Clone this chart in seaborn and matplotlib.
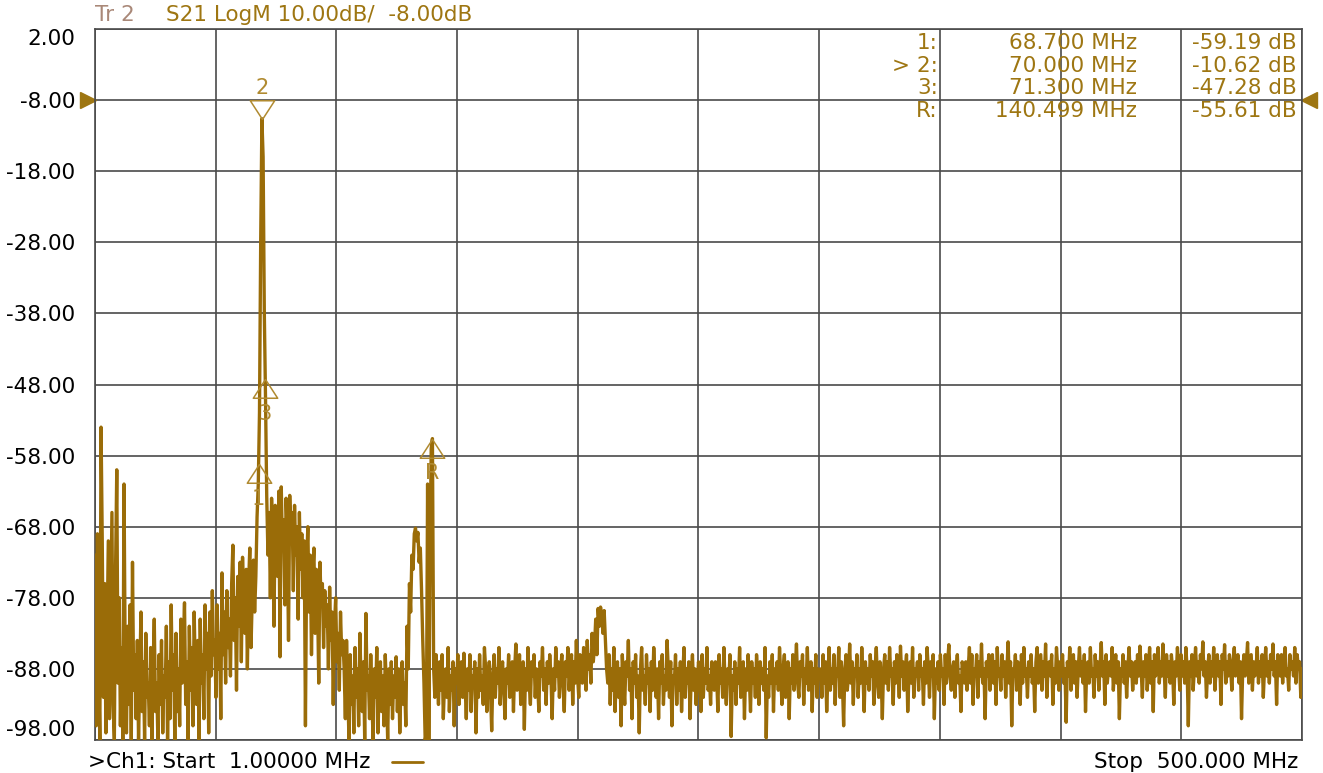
import matplotlib
matplotlib.use("Agg")
import matplotlib.pyplot as plt
import matplotlib.transforms as mtransforms
from matplotlib.lines import Line2D
import seaborn as sns
import numpy as np

W, H = 1323, 773

START_MHZ = 1.0
STOP_MHZ = 500.0
REF_DB = -8.0

# S21 trace, 0.5 MHz per point, split by region
edge_spurs = [-72, -96, -69, -88, -98, -54, -70, -92, -76, -97,
              -84, -70, -95, -80, -66, -93, -98, -74, -60, -90,
              -78, -96, -85, -98, -62]
low_band = [-88, -97, -82, -93, -79, -98, -73, -91, -86, -95,
            -84, -98, -89, -80, -94, -87, -98, -83, -92, -90,
            -96, -85, -98, -88, -81, -94, -90, -98, -86, -93,
            -84, -97, -89, -92, -82, -98, -87, -95, -79, -91,
            -86, -98, -83, -94, -88, -96, -81, -90, -85, -78.7,
            -93, -87, -98, -82, -91, -85, -96, -80, -89, -93,
            -84, -98, -81, -90, -86, -95, -79, -88, -83, -97,
            -80, -89, -77, -86]
rising_skirt = [-84, -92, -79, -88, -83, -95, -74.5, -86, -80, -90,
                -77, -85, -81, -89, -76, -70.6, -84, -78, -91, -75,
                -82, -73, -87, -72.3, -79, -83, -74, -88, -76, -71,
                -85, -78, -72.7, -80, -75, -66.6, -62]
carrier = [-52, -28, -10.62, -16, -38, -50]
falling_skirt = [-63.8, -72, -66, -78, -64, -70, -82, -65, -68, -75,
                 -63, -86.3, -62.4, -71, -67, -79, -64, -69, -84, -63.6,
                 -70, -66, -77, -65, -72, -68, -81, -66, -74, -69,
                 -78, -70, -96, -73, -68, -80, -72, -86, -75, -71,
                 -83, -74, -78, -90, -73, -79, -76, -85, -77, -82,
                 -79, -88, -76.5, -84, -80, -93, -82, -78, -87, -83,
                 -91, -80, -86, -84]
gap_band = [-88, -95, -84, -91, -98, -86, -93, -89, -97, -85,
            -92, -88, -96, -83, -90, -94, -87, -98, -80.2, -91,
            -89, -95, -86, -93, -98, -88, -92, -85, -97, -90,
            -87, -94, -89, -96, -86, -91, -98, -88, -93, -87,
            -95, -89, -92, -86.3, -94, -88, -97, -90, -87, -93]
second_harmonic = [-90, -96, -82, -88, -76, -80, -72, -74, -69, -68.2,
                   -70, -68.8, -73, -71, -77, -84, -90, -98, -97, -62,
                   -98, -72, -57, -55.61, -88, -92, -86]
floor_a = [-89, -93, -87, -91, -86, -95, -90, -88, -92, -85,
           -94, -89, -91, -87, -96, -88, -90, -86, -93, -89,
           -87, -92, -85.8, -90, -95, -88, -91, -86, -94, -89,
           -90, -87, -97, -88, -92, -86, -91, -89, -93, -85,
           -88, -94, -90, -87, -91, -96.7, -89, -86, -92, -88,
           -90, -85, -93, -89, -87, -91, -95, -88, -90, -86,
           -92, -89, -87, -94, -88, -84.5, -91, -90, -86, -93,
           -89, -87, -96.5, -88, -91, -85, -90, -93, -87, -89,
           -86, -92, -88, -90, -94, -87, -89, -85, -91, -88,
           -93, -87, -90, -86, -89, -95, -88, -91, -85, -89,
           -87, -92, -88, -86, -90, -94, -87, -89, -85, -91,
           -88, -86, -93, -87, -90, -84, -89, -92, -86, -88,
           -90, -85, -87, -91, -84, -88, -86, -90, -83, -87]
spur_210 = [-85, -81, -86, -79.5, -82, -79.3, -80.5, -83, -79.8, -84, -88]
floor_b = [-90, -86, -93, -88, -91, -85, -94, -89, -87, -92,
           -88, -96, -86, -90, -93, -87, -89, -84, -91, -88,
           -95, -87, -90, -86, -92, -89, -97, -88, -85, -91,
           -89, -93, -86, -90, -88, -94, -87, -91, -85, -89,
           -92, -88, -95, -87, -90, -86, -93, -89, -91, -84,
           -88, -92, -87, -96, -89, -90, -86, -93, -88, -91,
           -87, -94, -89, -85, -92, -88, -90, -87, -95, -89,
           -86, -91, -88, -93, -90, -87, -89, -94, -86, -92,
           -88, -90, -85, -91, -89, -93, -87, -90]
floor_c = [-91, -87, -89, -94, -86, -90, -88, -92, -85, -90,
           -93, -88, -90, -86, -97.5, -89, -91, -87, -93, -88,
           -90, -85, -92, -89, -87, -95, -88, -91, -86, -89,
           -94, -87, -90, -88, -92, -86, -89, -93, -87, -90,
           -88, -91, -85, -97.7, -89, -92, -87, -90, -86, -94,
           -88, -90, -87, -91, -85, -89, -93, -88, -86, -92,
           -89, -87, -95, -88, -90, -86, -91, -88, -84.5, -90,
           -92, -87, -89, -86, -93, -88, -90, -85, -91, -89,
           -87, -94, -88, -90, -86, -92, -88, -89]
floor_d = [-88, -92, -86, -90, -87, -94, -89, -85, -91, -88,
           -90, -86, -93, -88, -89, -85, -92, -87, -90, -96,
           -88, -86, -91, -89, -84.5, -90, -87, -93, -88, -89,
           -86, -92, -88, -90, -85, -89, -94, -87, -90, -88,
           -91, -86, -89, -87, -93, -88, -85, -90, -92, -87,
           -89, -95, -88, -86, -90, -87, -91, -85, -89, -88,
           -93, -87, -90, -86, -88, -92, -84.8, -89, -87, -91,
           -88, -86, -94, -89, -87, -90, -85, -92, -88, -89,
           -87, -91, -86, -89, -88, -93, -87, -90, -85, -88,
           -92, -87, -89, -86, -95, -88, -90, -87, -91, -86,
           -89, -88, -93, -86, -90, -87, -84.6, -89, -91, -88,
           -87, -92, -88, -86, -90, -89, -94, -87, -88, -90]
floor_e = [-87, -91, -88, -85, -90, -86, -93, -88, -89, -86,
           -92, -87, -89, -84.5, -90, -88, -95, -87, -89, -86,
           -91, -88, -86, -90, -87, -93, -85, -89, -88, -91,
           -86, -89, -87, -92, -88, -84.2, -90, -87, -96, -88,
           -89, -86, -91, -87, -88, -93, -86, -90, -85, -89,
           -88, -92, -87, -89, -86, -90, -88, -94, -87, -85,
           -90, -88, -86, -91, -87, -89, -84.5, -92, -88, -87,
           -89, -86, -93, -88, -90, -85, -88, -91, -87, -89,
           -86, -90, -88, -95.5, -87, -89, -85, -91, -88, -86,
           -90, -87, -92, -88, -85, -89, -87, -90, -86, -94,
           -88, -87, -90, -85, -89, -88, -92, -86, -89, -87,
           -91, -88, -84.3, -89, -87, -93, -86, -90, -88, -87,
           -89, -85, -91, -88, -86, -90, -87, -95, -88, -89,
           -86, -90, -87, -92, -88, -85, -89, -87, -91, -88]
floor_f = [-87, -90, -86, -89, -84.8, -88, -92, -87, -89, -86,
           -91, -88, -85, -90, -87, -94, -86, -89, -88, -85,
           -90, -87, -89, -84.5, -88, -92, -86, -89, -87, -90,
           -86, -88, -93, -87, -89, -85, -88, -91, -86, -89,
           -87, -90, -85, -88, -96, -87, -89, -86, -91, -88,
           -85, -89, -87, -90, -86, -88, -84.2, -89, -87, -92,
           -88, -86, -90, -87, -89, -85, -91, -88, -86, -89,
           -87, -93, -86, -88, -84.6, -90, -87, -89, -86, -88,
           -91, -87, -85, -89, -88, -86, -90, -87, -95, -88,
           -86, -89, -87, -84.3, -90, -88, -86, -91, -87, -89,
           -88, -85, -90, -87, -89, -86, -92, -88, -85, -89,
           -87, -90, -86, -88, -84.5, -89, -87, -93, -86, -88,
           -89, -86, -90, -87, -85, -89, -88, -91, -86, -88,
           -87, -89, -85, -90, -86, -88, -87, -92, -88]

ytick_vals = [2.0, -8.0, -18.0, -28.0, -38.0, -48.0, -58.0, -68.0, -78.0, -88.0, -98.0]

marker_names = ["1", "2", "3", "R"]
marker_rows = ["1:", "> 2:", "3:", "R:"]
marker_freqs = [68.7, 70.0, 71.3, 140.499]
marker_vals = [-59.19, -10.62, -47.28, -55.61]
active_marker = 1

trace = np.concatenate([edge_spurs, low_band, rising_skirt, carrier, falling_skirt,
                        gap_band, second_harmonic, floor_a, spur_210, floor_b,
                        floor_c, floor_d, floor_e, floor_f])
freq = np.linspace(START_MHZ, STOP_MHZ, len(trace))

TRACE = "#9A6C08"
GOLD = "#9E7612"
MARK = "#B08A30"
GRID = "#4a4a4a"
FS = 15.5

sns.set_style("white")
plt.rcParams["font.family"] = ["DejaVu Sans"]


def px(x, y):
    return x / W, 1 - y / H


fig = plt.figure(figsize=(W / 100, H / 100), dpi=100)
fig.patch.set_facecolor("white")
ax = fig.add_axes([95 / W, 1 - 740 / H, (1302 - 95) / W, (740 - 29) / H])

sns.lineplot(x=freq, y=trace, color=TRACE, linewidth=2.4, estimator=None,
             sort=False, ax=ax, zorder=3)

ax.set_xlim(START_MHZ, STOP_MHZ)
ax.set_ylim(ytick_vals[-1], ytick_vals[0])
ax.set_xticks(np.linspace(START_MHZ, STOP_MHZ, 11))
ax.set_xticklabels([])
ax.set_yticks(ytick_vals)
ax.set_yticklabels([f"{v:.2f}" for v in ytick_vals])
ax.tick_params(length=0, labelsize=FS, pad=14, colors="black")
ax.grid(True, color=GRID, linewidth=1.2)
for s in ax.spines.values():
    s.set_color(GRID)
    s.set_linewidth(1.2)
ylabels = ax.get_yticklabels()
ylabels[0].set_va("top")
ylabels[-1].set_va("bottom")

# markers: apex sits on the marker value
tri_down = [(0, 0), (-0.65, 1), (0.65, 1), (0, 0)]
tri_up = [(0, 0), (-0.65, -1), (0.65, -1), (0, 0)]
for i, (name, f, v) in enumerate(zip(marker_names, marker_freqs, marker_vals)):
    down = i == active_marker
    ax.plot([f], [v], marker=tri_down if down else tri_up, ms=27,
            mfc="none", mec=MARK, mew=1.1, linestyle="none", zorder=4)
    ax.annotate(name, xy=(f, v), xytext=(0, 22 if down else -25),
                textcoords="offset points", ha="center", va="center",
                fontsize=15, color=MARK, zorder=5)

# reference level arrows
trans = mtransforms.blended_transform_factory(ax.transAxes, ax.transData)
ax.plot([-0.0055], [REF_DB], marker=">", ms=11, color=GOLD, transform=trans, clip_on=False)
ax.plot([1.0055], [REF_DB], marker="<", ms=11, color=GOLD, transform=trans, clip_on=False)

# header
fig.text(*px(95, 15), "Tr 2", color="#A98878", fontsize=FS, va="center")
fig.text(*px(166, 15), "S21 LogM 10.00dB/  -8.00dB", color=GOLD, fontsize=FS, va="center")

# marker readout table
row_y = [43, 66, 88, 111]
for ry, lab, f, v in zip(row_y, marker_rows, marker_freqs, marker_vals):
    fig.text(*px(938, ry), lab, color=GOLD, fontsize=FS, ha="right", va="center")
    fig.text(*px(1137, ry), f"{f:.3f} MHz", color=GOLD, fontsize=FS, ha="right", va="center")
    fig.text(*px(1297, ry), f"{v:.2f} dB", color=GOLD, fontsize=FS, ha="right", va="center")

# footer
fig.text(*px(88, 762), ">Ch1: Start  1.00000 MHz", color="black", fontsize=FS, va="center")
fig.add_artist(Line2D([392 / W, 423 / W], [1 - 762 / H, 1 - 762 / H], color=TRACE, linewidth=2))
fig.text(*px(1298, 762), "Stop  500.000 MHz", color="black", fontsize=FS, ha="right", va="center")

fig.savefig("out.png", dpi=100, facecolor="white")
